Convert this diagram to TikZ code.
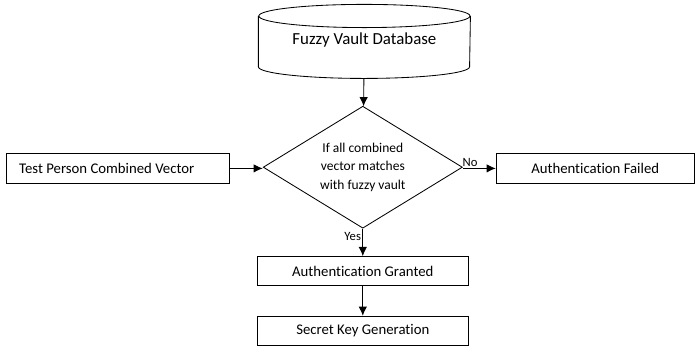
\documentclass[tikz,border=0pt]{standalone}
\usepackage{fontspec}
\setmainfont{Carlito}[Ligatures=NoCommon]
\usetikzlibrary{arrows.meta, shapes.geometric}

\begin{document}
\begin{tikzpicture}
      [
        line width=0.6pt,
        >={Latex[length=2.3mm,width=2.1mm]},
        box/.style={draw, rectangle, minimum height=0.73cm, inner sep=0pt, font=\fontsize{10.5}{12}\selectfont},
        db/.style={rectangle, minimum width=5.28cm, minimum height=1.9cm, inner sep=0pt, font=\fontsize{12}{14}\selectfont},
        test/.style={draw, diamond, aspect=1.63, minimum width=4.98cm, minimum height=3.05cm, inner sep=0pt, align=center, font=\fontsize{9.6}{13}\selectfont},
        tag/.style={font=\fontsize{9}{10}\selectfont, inner sep=1pt}
      ]
      \useasboundingbox (0,0) rectangle (17.4,-8.675);
      % nodes
      \node [db] (vault) at (9.11,-1.0) {Fuzzy Vault Database};
      \node [box, minimum width=5.58cm] (person) at (2.94,-4.21) {};
      \node [box, draw=none, anchor=west] (persontext) at ([xshift=3.3mm]person.west) {Test Person Combined Vector};
      \node [test] (match) at (9.07,-4.18) {If all combined\\vector matches\\with fuzzy vault};
      \node [box, minimum width=4.95cm] (failed) at (14.88,-4.21) {Authentication Failed};
      \node [box, minimum width=5.28cm] (granted) at (9.07,-6.78) {Authentication Granted};
      \node [box, minimum width=5.28cm] (secret) at (9.07,-8.27) {Secret Key Generation};
      % database drum
      \draw ([yshift=-3.6mm]vault.north) ellipse (2.64 and 0.29);
      \draw ([yshift=-3.6mm]vault.north west) -- ([yshift=2.9mm]vault.south west)
        arc (180:360:2.64 and 0.29) -- ([yshift=-3.6mm]vault.north east);
      % arrows
      \draw [->] (vault) -- (match);
      \draw [->] (person) -- (match.west |- person);
      \draw [->] (match.east |- failed) -- node [tag, pos=0.22, above] {No} (failed);
      \draw [->] (match) -- node [tag, pos=0.3, left] {Yes} (granted);
      \draw [->] (granted) -- (secret);
\end{tikzpicture}
\end{document}
